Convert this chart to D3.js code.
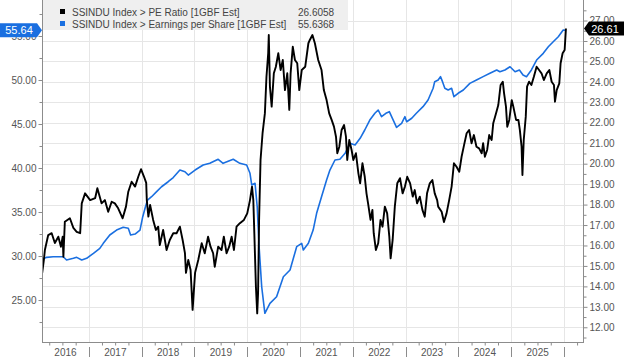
<!DOCTYPE html>
<html><head><meta charset="utf-8">
<script src="https://cdn.jsdelivr.net/npm/d3@7"></script>
<style>
body{margin:0;background:#fff}
svg{display:block}
text{font-family:"Liberation Sans",Arial,sans-serif}
</style>
</head><body>
<svg id="c" width="624" height="360"></svg>
<script>
// ---------- DATA ----------
const peDates = ["2016-02-12","2016-02-24","2016-03-02","2016-03-25","2016-04-18","2016-05-10","2016-06-03","2016-06-21","2016-07-03","2016-07-08","2016-07-18","2016-08-22","2016-09-15","2016-10-08","2016-11-01","2016-11-12","2016-12-05","2017-01-09","2017-02-13","2017-02-28","2017-03-29","2017-04-21","2017-05-14","2017-06-07","2017-06-29","2017-07-22","2017-08-22","2017-09-14","2017-09-30","2017-10-23","2017-11-16","2017-12-08","2017-12-27","2018-01-17","2018-02-01","2018-02-05","2018-02-16","2018-02-28","2018-03-21","2018-04-09","2018-04-25","2018-05-06","2018-05-29","2018-06-22","2018-07-14","2018-08-07","2018-08-30","2018-09-22","2018-10-11","2018-10-27","2018-11-03","2018-11-19","2018-12-05","2018-12-19","2019-01-05","2019-01-27","2019-02-20","2019-03-13","2019-04-05","2019-04-22","2019-05-10","2019-05-21","2019-06-14","2019-07-07","2019-07-23","2019-08-11","2019-08-29","2019-09-15","2019-10-01","2019-10-19","2019-11-11","2019-12-09","2020-01-01","2020-01-20","2020-02-03","2020-02-12","2020-02-19","2020-03-01","2020-03-10","2020-03-16","2020-03-23","2020-04-02","2020-04-16","2020-05-02","2020-05-13","2020-05-25","2020-05-29","2020-06-06","2020-06-18","2020-07-03","2020-07-17","2020-08-03","2020-08-19","2020-09-03","2020-09-18","2020-10-04","2020-10-18","2020-10-27","2020-11-11","2020-11-26","2020-12-12","2020-12-26","2021-01-12","2021-02-05","2021-02-27","2021-03-09","2021-03-27","2021-04-13","2021-05-06","2021-05-29","2021-06-14","2021-07-03","2021-07-21","2021-08-07","2021-08-23","2021-09-06","2021-09-15","2021-09-29","2021-10-15","2021-11-01","2021-11-14","2021-11-23","2021-12-07","2021-12-23","2022-01-04","2022-01-22","2022-02-08","2022-02-20","2022-03-08","2022-03-24","2022-04-05","2022-04-16","2022-05-03","2022-05-16","2022-05-25","2022-06-09","2022-06-25","2022-07-11","2022-07-25","2022-08-10","2022-08-26","2022-09-10","2022-09-19","2022-10-03","2022-10-18","2022-11-04","2022-11-23","2022-12-11","2022-12-27","2023-01-12","2023-02-01","2023-02-19","2023-03-05","2023-03-21","2023-04-09","2023-04-27","2023-05-13","2023-05-29","2023-06-17","2023-07-05","2023-07-21","2023-08-07","2023-08-14","2023-09-07","2023-09-23","2023-10-11","2023-10-29","2023-11-15","2023-12-01","2023-12-19","2024-01-07","2024-01-23","2024-02-09","2024-02-27","2024-03-15","2024-04-01","2024-04-17","2024-05-05","2024-05-23","2024-06-10","2024-06-20","2024-07-02","2024-07-18","2024-08-01","2024-08-18","2024-08-29","2024-09-17","2024-10-03","2024-10-19","2024-11-03","2024-11-12","2024-11-25","2024-12-04","2024-12-18","2025-01-04","2025-01-15","2025-02-03","2025-02-19","2025-03-01","2025-03-13","2025-03-19","2025-03-28","2025-04-11","2025-04-20","2025-05-04","2025-05-20","2025-06-06","2025-06-25","2025-07-12","2025-07-29","2025-08-14","2025-09-03","2025-09-21","2025-10-07","2025-10-23","2025-10-30","2025-11-11","2025-11-29","2025-12-08","2025-12-22","2026-01-05","2026-01-14"];
const peValues = [14.65,15.30,15.78,16.51,16.60,16.12,16.43,15.94,16.43,15.45,17.16,17.33,16.86,16.67,16.60,18.06,18.55,18.22,18.32,18.80,18.06,18.22,17.65,18.14,18.06,17.82,17.33,17.90,18.63,19.12,18.88,19.36,19.73,19.36,19.06,18.22,17.41,17.98,17.25,16.76,16.92,16.02,16.76,15.78,16.27,16.60,16.60,16.92,16.27,15.63,14.66,15.29,14.80,12.85,14.66,15.29,16.11,15.62,16.43,15.94,15.62,14.96,15.94,15.78,16.43,15.62,15.94,16.43,15.78,16.92,17.09,17.25,17.57,18.22,18.88,18.22,16.61,13.99,12.68,13.68,17.25,20.18,21.49,22.46,24.25,25.40,26.29,23.77,22.79,24.42,24.74,25.40,24.58,25.07,23.60,24.42,22.63,24.42,25.72,25.07,24.91,23.60,24.58,24.74,25.89,26.05,26.29,25.89,25.07,24.58,23.60,23.11,22.46,22.14,21.81,21.32,20.51,20.83,21.65,21.89,21.32,20.18,21.16,20.67,20.18,20.51,19.53,19.04,20.02,19.36,18.55,18.06,17.25,17.74,16.60,15.78,16.11,17.25,16.92,17.90,17.57,16.43,15.37,16.27,17.90,19.04,19.29,18.55,18.88,19.36,19.04,18.39,18.71,18.06,18.39,17.74,17.41,18.55,19.04,19.20,18.55,18.22,17.90,17.65,17.15,17.57,18.22,18.88,20.02,19.85,19.61,20.34,20.91,21.49,21.65,21.00,21.40,20.83,20.75,20.51,21.00,20.34,20.67,21.40,21.16,21.98,22.46,22.87,23.85,24.01,23.44,22.79,21.81,22.14,23.11,22.79,22.14,22.14,21.65,20.83,19.45,21.16,22.30,23.77,24.01,23.85,24.25,24.74,24.58,24.42,24.09,24.42,24.58,24.01,23.85,23.03,23.60,23.93,24.91,25.40,25.56,26.61];

const epsDates = ["2016-02-12","2016-03-14","2016-04-28","2016-07-07","2016-07-30","2016-09-15","2016-10-08","2016-11-12","2016-12-16","2017-02-01","2017-03-17","2017-04-10","2017-05-25","2017-07-11","2017-08-26","2017-09-30","2017-10-16","2017-11-16","2017-12-20","2018-01-08","2018-01-24","2018-02-10","2018-03-10","2018-04-14","2018-05-18","2018-07-03","2018-08-07","2018-09-22","2018-10-27","2018-11-19","2019-01-05","2019-03-02","2019-04-17","2019-06-14","2019-07-18","2019-09-26","2019-11-11","2019-12-28","2020-01-20","2020-02-01","2020-02-24","2020-03-10","2020-03-23","2020-04-10","2020-05-02","2020-06-06","2020-07-22","2020-09-07","2020-10-23","2020-12-08","2021-01-12","2021-01-23","2021-02-27","2021-04-01","2021-04-25","2021-05-29","2021-07-03","2021-07-26","2021-08-30","2021-10-03","2021-11-08","2021-12-12","2022-01-16","2022-02-20","2022-03-24","2022-04-28","2022-06-02","2022-06-25","2022-07-18","2022-08-17","2022-09-10","2022-10-07","2022-10-30","2022-12-04","2022-12-27","2023-01-08","2023-02-12","2023-03-16","2023-05-01","2023-06-05","2023-07-10","2023-07-21","2023-08-14","2023-08-30","2023-09-13","2023-09-29","2023-10-22","2023-11-15","2023-12-01","2023-12-30","2024-02-04","2024-03-20","2024-05-05","2024-06-20","2024-08-06","2024-09-22","2024-10-14","2024-11-18","2024-12-23","2025-01-27","2025-02-26","2025-03-23","2025-04-16","2025-05-20","2025-06-25","2025-08-10","2025-09-14","2025-10-18","2025-11-22","2025-12-26","2026-01-14"];
const epsValues = [29.62,29.85,29.92,29.92,29.55,29.74,29.85,29.55,29.74,30.31,30.87,31.44,32.39,32.95,33.26,33.15,32.39,32.50,32.95,34.47,35.42,36.36,36.74,37.31,37.87,38.44,38.92,39.77,39.58,39.20,39.77,40.34,40.53,40.99,40.53,40.99,40.53,40.34,39.40,38.07,38.26,35.60,31.06,26.51,23.49,24.62,25.37,27.65,28.41,31.06,31.44,30.68,31.44,32.95,34.85,36.74,38.64,39.77,40.91,40.99,41.67,42.81,42.61,43.37,44.32,45.45,46.22,46.59,45.83,46.22,46.40,45.45,44.62,45.08,45.83,45.26,45.65,46.22,46.97,47.73,49.06,49.81,50.00,50.38,49.81,49.06,48.86,49.06,48.10,48.49,48.86,49.62,50.00,50.38,50.76,51.14,50.94,51.14,51.51,50.94,51.14,50.57,50.38,51.14,52.27,53.03,53.78,54.35,54.92,55.68,55.64];

const leftTicks = [25, 30, 35, 40, 45, 50, 55];
const rightTicks = [12, 13, 14, 15, 16, 17, 18, 19, 20, 21, 22, 23, 24, 25, 26, 27];
const yearLabels = ["2016","2017","2018","2019","2020","2021","2022","2023","2024","2025"];
const legendLabels = ["SSINDU Index > PE Ratio [1GBF Est]", "SSINDU Index > Earnings per Share [1GBF Est]"];
const legendValues = ["26.6058", "55.6368"];
const lastPE = "26.61";
const lastEPS = "55.64";

// ---------- LAYOUT ----------
const L = 42, R = 583, T = 0, B = 342;
const BLACK = "#000000", BLUE = "#1a6fe0", GRID = "#e6e6e6", AXIS = "#8c8c8c", TXT = "#555555";
const parse = d3.timeParse("%Y-%m-%d");
const svg = d3.select("#c");

const x = d3.scaleTime().domain([parse("2016-02-11"), parse("2026-05-12")]).range([L, R]);
const yL = d3.scaleLinear().domain([20.23, 59.09]).range([B, T]);
const yR = d3.scaleLinear().domain([11.28, 28.005]).range([B, T]);

// grid
const yearStarts = d3.range(2017, 2027).map(y => new Date(y, 0, 1));
svg.append("g").selectAll("line").data(rightTicks).join("line")
  .attr("x1", L).attr("x2", R).attr("y1", d => Math.round(yR(d)) + 0.5).attr("y2", d => Math.round(yR(d)) + 0.5)
  .attr("stroke", GRID).attr("stroke-width", 1);
svg.append("g").selectAll("line").data(yearStarts).join("line")
  .attr("x1", d => Math.round(x(d)) + 0.5).attr("x2", d => Math.round(x(d)) + 0.5).attr("y1", T).attr("y2", B)
  .attr("stroke", GRID).attr("stroke-width", 1);

// clip
svg.append("clipPath").attr("id", "clip").append("rect").attr("x", L).attr("y", T).attr("width", R - L).attr("height", B - T);

const peData = peDates.map((d, i) => ({date: parse(d), v: peValues[i]}));
const epsData = epsDates.map((d, i) => ({date: parse(d), v: epsValues[i]}));

const plot = svg.append("g").attr("clip-path", "url(#clip)");
plot.append("path").datum(epsData)
  .attr("d", d3.line().x(d => x(d.date)).y(d => yL(d.v)))
  .attr("fill", "none").attr("stroke", BLUE).attr("stroke-width", 1.6).attr("stroke-linejoin", "round");
plot.append("path").datum(peData)
  .attr("d", d3.line().x(d => x(d.date)).y(d => yR(d.v)))
  .attr("fill", "none").attr("stroke", BLACK).attr("stroke-width", 1.9).attr("stroke-linejoin", "round");

// axes lines
svg.append("line").attr("x1", L + 0.5).attr("x2", L + 0.5).attr("y1", T).attr("y2", B + 0.5).attr("stroke", AXIS);
svg.append("line").attr("x1", R + 0.5).attr("x2", R + 0.5).attr("y1", T).attr("y2", B + 0.5).attr("stroke", AXIS);
svg.append("line").attr("x1", L).attr("x2", R + 1).attr("y1", B + 0.5).attr("y2", B + 0.5).attr("stroke", AXIS);

// left axis
const leftAxis = svg.append("g").attr("transform", `translate(${L + 0.5},0)`)
  .call(d3.axisLeft(yL).tickValues(leftTicks).tickFormat(d3.format(".2f")).tickSize(4).tickPadding(2));
const leftMinor = svg.append("g").attr("transform", `translate(${L + 0.5},0)`)
  .call(d3.axisLeft(yL).tickValues(d3.range(22.5, 59, 5)).tickFormat("").tickSize(3));
// right axis
const rightAxis = svg.append("g").attr("transform", `translate(${R + 0.5},0)`)
  .call(d3.axisRight(yR).tickValues(rightTicks).tickFormat(d3.format(".2f")).tickSize(4).tickPadding(2));
const rightMinor = svg.append("g").attr("transform", `translate(${R + 0.5},0)`)
  .call(d3.axisRight(yR).tickValues(d3.range(11.5, 28, 1)).tickFormat("").tickSize(3));
[leftAxis, leftMinor, rightAxis, rightMinor].forEach(g => {
  g.select(".domain").remove();
  g.selectAll("line").attr("stroke", AXIS);
  g.selectAll("text").attr("fill", TXT).style("font-size", "10px").style("font-family", '"Liberation Sans",Arial,sans-serif');
});

// bottom axis: quarter ticks + year separators + labels
const quarters = d3.timeMonth.every(3).range(x.domain()[0], x.domain()[1]).filter(d => d.getMonth() !== 0);
const bottomMinor = svg.append("g").attr("transform", `translate(0,${B + 0.5})`)
  .call(d3.axisBottom(x).tickValues(quarters).tickFormat("").tickSize(3));
bottomMinor.select(".domain").remove();
bottomMinor.selectAll("line").attr("stroke", AXIS);
svg.append("g").selectAll("line").data(yearStarts).join("line")
  .attr("x1", d => Math.round(x(d)) + 0.5).attr("x2", d => Math.round(x(d)) + 0.5)
  .attr("y1", 347).attr("y2", 357).attr("stroke", AXIS);
svg.append("g").selectAll("text").data(yearLabels).join("text")
  .attr("x", d => {
    const y = +d;
    const a = Math.max(L, x(new Date(y, 0, 1))), b = Math.min(R, x(new Date(y + 1, 0, 1)));
    return (a + b) / 2;
  })
  .attr("y", 356).attr("text-anchor", "middle").attr("fill", TXT).style("font-size", "10px").text(d => d);

// legend
const lg = svg.append("g");
lg.append("rect").attr("x", L + 1).attr("y", 0).attr("width", 305).attr("height", 30).attr("fill", "#efefef");
[BLACK, BLUE].forEach((c, i) => {
  lg.append("rect").attr("x", 60).attr("y", 9 + i * 12).attr("width", 5).attr("height", 5).attr("fill", c);
  lg.append("text").attr("x", 72).attr("y", 15.5 + i * 12).attr("fill", "#444").style("font-size", "10px").text(legendLabels[i]);
  lg.append("text").attr("x", 298).attr("y", 15.5 + i * 12).attr("fill", "#444").style("font-size", "10px").text(legendValues[i]);
});

// last-value tags
const yb = yL(+lastEPS);
svg.append("path").attr("d", `M0,${yb - 7}H37L42,${yb}L37,${yb + 7}H0Z`).attr("fill", BLUE);
svg.append("text").attr("x", 19).attr("y", yb + 4).attr("text-anchor", "middle").attr("fill", "#fff").style("font-size", "11px").text(lastEPS);
const yk = yR(+lastPE);
svg.append("path").attr("d", `M${R + 1},${yk}L${R + 6},${yk - 7}H624V${yk + 7}H${R + 6}Z`).attr("fill", "#000");
svg.append("text").attr("x", 605).attr("y", yk + 4).attr("text-anchor", "middle").attr("fill", "#fff").style("font-size", "11px").text(lastPE);
</script>
</body></html>
